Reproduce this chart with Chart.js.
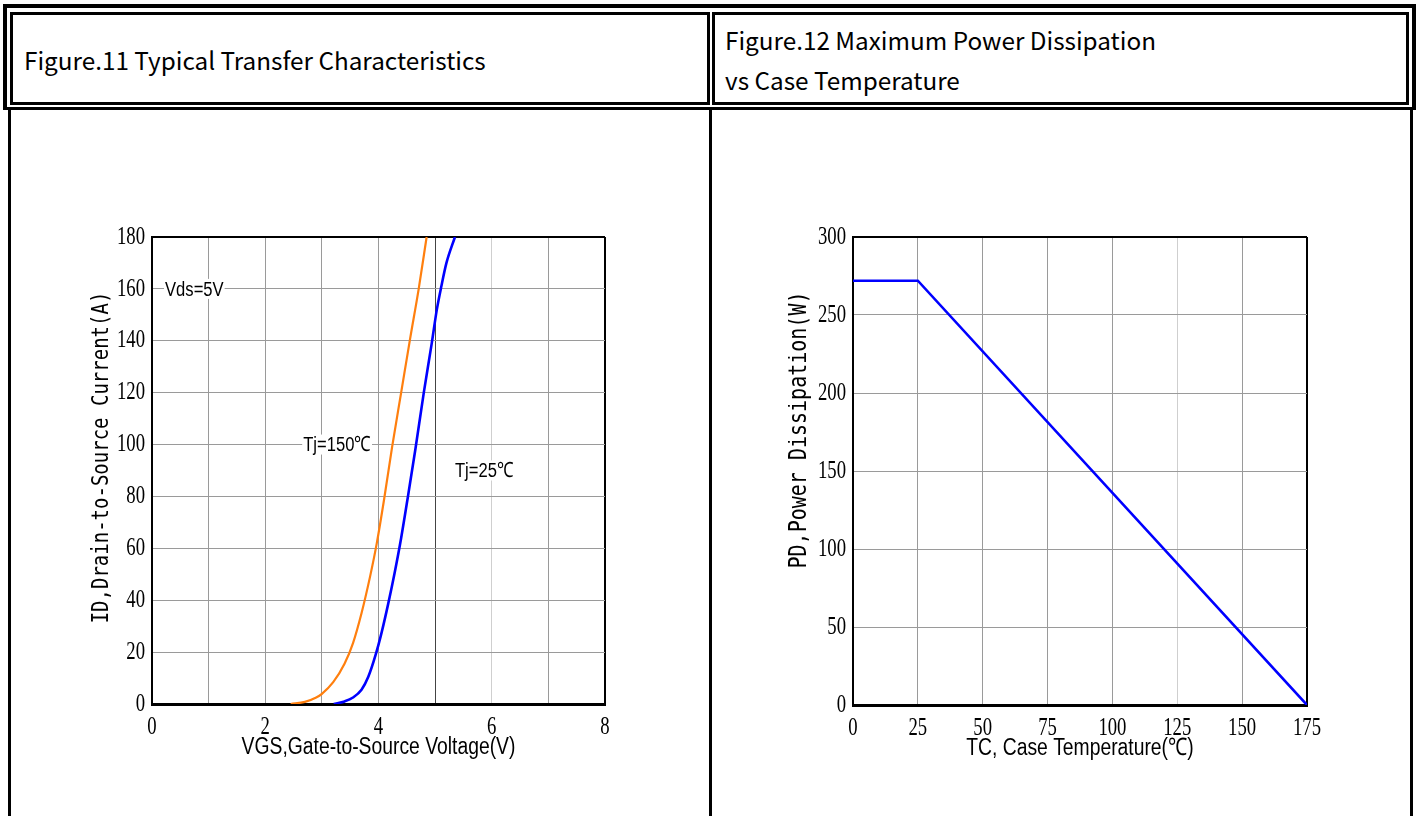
<!DOCTYPE html>
<html>
<head>
<meta charset="utf-8">
<script src="https://cdn.jsdelivr.net/npm/chart.js@4.4.1/dist/chart.umd.min.js"></script>
<style>
  body { margin: 0; width: 1420px; height: 816px; background: #fff; position: relative; overflow: hidden; }
  .blk { position: absolute; background: #000; }
  .box { position: absolute; box-sizing: border-box; border: 3px solid #000; }
  .hdr { position: absolute; font-family: "Noto Sans CJK SC", "Noto Sans", sans-serif; font-size: 24.3px; color: #000; white-space: nowrap; line-height: 40px; }
  canvas { position: absolute; }
</style>
</head>
<body>
<!-- header frame -->
<div class="box" style="left:3px;top:4px;width:1413px;height:106px;border-width:4px 4px 3px 4px;"></div>
<div class="box" style="left:10px;top:12px;width:700px;height:93px;"></div>
<div class="box" style="left:712px;top:12px;width:697px;height:93px;"></div>
<div class="hdr" style="left:24px;top:40px;">Figure.11 Typical Transfer Characteristics</div>
<div class="hdr" style="left:725px;top:20px;">Figure.12 Maximum Power Dissipation<br>vs Case Temperature</div>
<!-- body frame -->
<div class="blk" style="left:8px;top:108px;width:3px;height:708px;"></div>
<div class="blk" style="left:709px;top:108px;width:3px;height:708px;"></div>
<div class="blk" style="left:1410px;top:108px;width:3px;height:708px;"></div>

<canvas id="fig11" width="572" height="561" style="left:88px;top:200px;"></canvas>
<canvas id="fig12" width="574" height="562" style="left:788px;top:200px;"></canvas>

<script>
// Figure 11: transfer characteristics, VGS (V) vs ID (A)
var vgs150 = [2.45, 2.7, 2.9, 3.0, 3.2, 3.4, 3.55, 3.7, 3.85, 3.97, 4.1, 4.24, 4.4, 4.56, 4.71, 4.85];
var id150  = [0, 0.8, 2.5, 3.9, 8.4, 15.5, 23.5, 35, 49, 62, 79, 99, 120, 141, 160, 180];
var vgs25  = [3.21, 3.4, 3.55, 3.7, 3.82, 3.95, 4.06, 4.17, 4.28, 4.4, 4.52, 4.65, 4.8, 4.94, 5.03, 5.11, 5.2, 5.35];
var id25   = [0, 1, 2.5, 5.5, 10.5, 19, 28, 38.5, 50, 64, 80, 98, 120, 139, 152, 161, 170, 180];
var fig11Notes = ["Vds=5V", "Tj=150℃", "Tj=25℃"];
var fig11NoteX = [0.23, 2.67, 5.35];
var fig11NoteY = [160, 100, 90];

// Figure 12: power derating, TC (°C) vs PD (W)
var tcVals = [0, 25, 175];
var pdVals = [272, 272, 0];

function toPts(xs, ys) {
  var pts = [];
  for (var i = 0; i < xs.length; i++) pts.push({x: xs[i], y: ys[i]});
  return pts;
}

// squeezed text, the datasheet fonts are narrow
function squeezeText(ctx, txt, x, y, sx, sy, rot) {
  ctx.save();
  ctx.translate(x, y);
  if (rot) ctx.rotate(rot);
  ctx.scale(sx, sy);
  ctx.fillText(txt, 0, 0);
  ctx.restore();
}

var notesPlugin = {
  id: 'notes',
  afterDatasetsDraw: (chart, args, opts) => {
    if (!opts.text) return;
    var ctx = chart.ctx;
    ctx.save();
    ctx.font = "20px 'Liberation Sans', sans-serif";
    ctx.textBaseline = 'middle';
    ctx.textAlign = 'left';
    for (var i = 0; i < opts.text.length; i++) {
      var px = chart.scales.x.getPixelForValue(opts.xs[i]);
      var py = chart.scales.y.getPixelForValue(opts.ys[i]);
      var w = ctx.measureText(opts.text[i]).width * 0.83;
      ctx.fillStyle = '#fff';
      ctx.fillRect(px - 1, py - 10, w + 2, 20);
      ctx.fillStyle = '#000';
      squeezeText(ctx, opts.text[i], px, py + 1, 0.83, 1.05);
    }
    ctx.restore();
  }
};

// tick labels and axis titles
var decorPlugin = {
  id: 'decor',
  afterDraw: (chart, args, o) => {
    var ctx = chart.ctx, a = chart.chartArea, sx = chart.scales.x, sy = chart.scales.y;
    ctx.save();
    ctx.fillStyle = '#000';
    ctx.textBaseline = 'middle';
    ctx.font = "24px 'Liberation Serif', serif";
    ctx.textAlign = 'right';
    sy.ticks.forEach((t) => {
      squeezeText(ctx, String(t.value), a.left - 7, sy.getPixelForValue(t.value), 0.78, 1.05);
    });
    ctx.textAlign = 'center';
    sx.ticks.forEach((t) => {
      if (t.value % o.xLabelEvery !== 0) return;
      squeezeText(ctx, String(t.value), sx.getPixelForValue(t.value), a.bottom + 23, 0.78, 1.05);
    });
    ctx.font = "23px 'Liberation Sans', sans-serif";
    squeezeText(ctx, o.xTitle, (a.left + a.right) / 2, a.bottom + 43, 0.84, 1.05);
    ctx.font = o.yTitleSize + "px 'DejaVu Sans Mono', monospace";
    squeezeText(ctx, o.yTitle, a.left + o.yTitleDx, (a.top + a.bottom) / 2 + o.yTitleDy, 1, 1.2, -Math.PI / 2);
    ctx.restore();
  }
};

function gridColor(max, dark, light) {
  return (c) => {
    if (c.tick.value === max) return '#000';
    if (dark && dark.indexOf(c.tick.value) >= 0) return '#444';
    if (light && light.indexOf(c.tick.value) >= 0) return '#cfcfcf';
    return '#9a9a9a';
  };
}

function axes(xmax, xstep, ymax, ystep, yWidth, darkX, lightX) {
  return {
    x: {
      type: 'linear', min: 0, max: xmax,
      afterFit: (s) => { s.height = 57; },
      border: {display: true, color: '#000', width: 3},
      grid: {color: gridColor(xmax, darkX, lightX), lineWidth: (c) => c.tick.value === xmax ? 2 : 1, drawTicks: false, tickLength: 0},
      ticks: {stepSize: xstep, display: false, autoSkip: false}
    },
    y: {
      type: 'linear', min: 0, max: ymax,
      afterFit: (s) => { s.width = yWidth; },
      border: {display: true, color: '#000', width: 2},
      grid: {color: gridColor(ymax), lineWidth: (c) => c.tick.value === ymax ? 2 : 1, drawTicks: false, tickLength: 0},
      ticks: {stepSize: ystep, display: false}
    }
  };
}

new Chart(document.getElementById('fig11'), {
  type: 'scatter',
  data: {
    datasets: [
      {label: 'Tj=150℃', data: toPts(vgs150, id150), showLine: true, borderColor: '#ff7f0e', borderWidth: 2.2, pointRadius: 0, cubicInterpolationMode: 'monotone'},
      {label: 'Tj=25℃', data: toPts(vgs25, id25), showLine: true, borderColor: '#0000ff', borderWidth: 2.6, pointRadius: 0, cubicInterpolationMode: 'monotone'}
    ]
  },
  options: {
    responsive: false, animation: false,
    layout: {padding: {top: 37, right: 55, left: 0, bottom: 0}},
    plugins: {legend: {display: false}, tooltip: {enabled: false},
      notes: {text: fig11Notes, xs: fig11NoteX, ys: fig11NoteY},
      decor: {xTitle: 'VGS,Gate-to-Source Voltage(V)', yTitle: 'ID,Drain-to-Source Current(A)',
        yTitleSize: 19, yTitleDx: -50, yTitleDy: -13, xLabelEvery: 2}},
    scales: axes(8, 1, 180, 20, 64, [5], [6])
  },
  plugins: [notesPlugin, decorPlugin]
});

new Chart(document.getElementById('fig12'), {
  type: 'scatter',
  data: {
    datasets: [
      {label: 'PD', data: toPts(tcVals, pdVals), showLine: true, borderColor: '#0000ff', borderWidth: 2.6, pointRadius: 0}
    ]
  },
  options: {
    responsive: false, animation: false,
    layout: {padding: {top: 37, right: 55, left: 0, bottom: 0}},
    plugins: {legend: {display: false}, tooltip: {enabled: false},
      decor: {xTitle: 'TC, Case Temperature(℃)', yTitle: 'PD,Power Dissipation(W)',
        yTitleSize: 20, yTitleDx: -53, yTitleDy: -41, xLabelEvery: 25}},
    scales: axes(175, 25, 300, 50, 65, [], [125])
  },
  plugins: [notesPlugin, decorPlugin]
});
</script>
</body>
</html>
